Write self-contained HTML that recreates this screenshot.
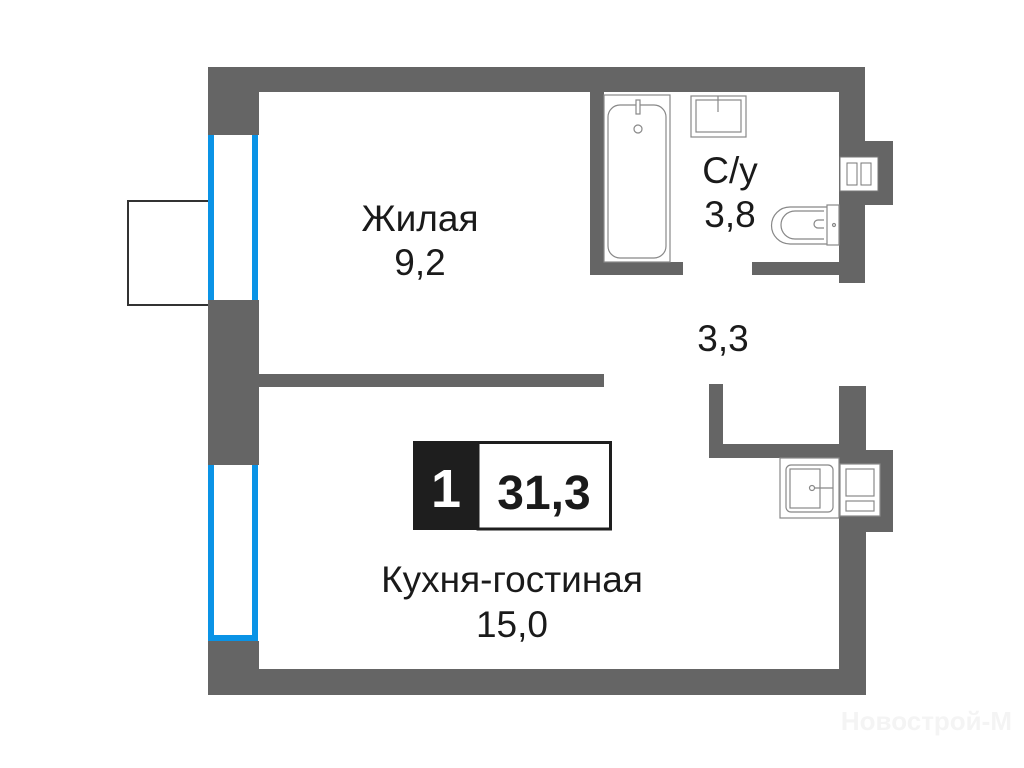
<!DOCTYPE html>
<html><head><meta charset="utf-8"><style>
html,body{margin:0;padding:0;background:#fff;width:1024px;height:768px;overflow:hidden}
svg{display:block}
text{font-family:"Liberation Sans","DejaVu Sans",sans-serif;fill:#1a1a1a}
</style></head><body>
<svg width="1024" height="768" viewBox="0 0 1024 768" xmlns="http://www.w3.org/2000/svg">
<g fill="#656565">
  <rect x="208" y="67" width="657" height="25"/>
  <rect x="208" y="67" width="51" height="628"/>
  <rect x="208" y="669" width="658" height="26"/>
  <rect x="839" y="67" width="26" height="216"/>
  <rect x="865" y="141" width="28" height="64"/>
  <rect x="839" y="386" width="27" height="309"/>
  <rect x="866" y="450" width="27" height="82"/>
  <rect x="259" y="374" width="345" height="13"/>
  <rect x="590" y="92" width="14" height="183"/>
  <rect x="590" y="262" width="93" height="13"/>
  <rect x="752" y="262" width="87" height="13"/>
  <rect x="709" y="384" width="14" height="74"/>
  <rect x="709" y="444" width="130" height="14"/>
</g>
<rect x="208" y="135" width="51" height="165" fill="#fff"/>
<rect x="208" y="135" width="6" height="165" fill="#0a93e6"/>
<rect x="252" y="135" width="6" height="165" fill="#0a93e6"/>
<rect x="208" y="465" width="51" height="176" fill="#fff"/>
<rect x="208" y="465" width="6" height="176" fill="#0a93e6"/>
<rect x="252" y="465" width="6" height="176" fill="#0a93e6"/>
<rect x="208" y="635" width="50" height="6" fill="#0a93e6"/>
<polyline points="208,201 128,201 128,305 208,305" fill="none" stroke="#333" stroke-width="2"/>
<rect x="840" y="157" width="38" height="34" fill="#fff" stroke="#777" stroke-width="1"/>
<rect x="847" y="163" width="10" height="22" fill="none" stroke="#777"/>
<rect x="861" y="163" width="10" height="22" fill="none" stroke="#777"/>
<g fill="none" stroke="#888" stroke-width="1.2">
  <rect x="604" y="95" width="66" height="167"/>
  <rect x="608" y="105" width="58" height="153" rx="12"/>
  <rect x="636" y="100" width="4" height="14" fill="#fff"/>
  <circle cx="638" cy="129" r="4"/>
  <rect x="691" y="96" width="55" height="41"/>
  <rect x="696" y="100" width="45" height="32"/>
  <line x1="718" y1="96" x2="718" y2="112"/>
  <rect x="827" y="205" width="12" height="40"/>
  <path d="M827,207 H790 A18,18 0 0 0 790,244 H827"/>
  <path d="M824,211 H795 A13,13 0 0 0 795,239 H824"/>
  <path d="M824,220 h-6 a4,4 0 0 0 0,8 h6"/>
  <circle cx="834" cy="225" r="1.5"/>
  <rect x="780" y="458" width="59" height="60" fill="#fff"/>
  <rect x="786" y="465" width="47" height="47" rx="5"/>
  <rect x="790" y="469" width="30" height="39"/>
  <circle cx="812" cy="488" r="2.5"/>
  <line x1="815" y1="488" x2="833" y2="488"/>
  <rect x="840" y="464" width="40" height="52" fill="#fff"/>
  <rect x="846" y="469" width="28" height="27"/>
  <rect x="846" y="501" width="28" height="10"/>
</g>
<g font-size="37" text-anchor="middle">
  <text x="420" y="231">Жилая</text>
  <text x="420" y="275">9,2</text>
  <text x="730" y="183">С/у</text>
  <text x="730" y="227">3,8</text>
  <text x="723" y="351">3,3</text>
  <text x="512" y="592">Кухня-гостиная</text>
  <text x="512" y="637">15,0</text>
</g>
<rect x="413" y="441" width="65" height="89" fill="#1e1e1e"/>
<rect x="478" y="442.5" width="132.5" height="86.5" fill="#fff" stroke="#1e1e1e" stroke-width="3"/>
<text x="446" y="507" font-size="54" font-weight="bold" text-anchor="middle" style="fill:#fff">1</text>
<text x="544" y="509" font-size="48" font-weight="bold" text-anchor="middle">31,3</text>
<text x="1012" y="730" font-size="26" font-weight="bold" text-anchor="end" style="fill:#f4f4f4">Новострой-М</text>
</svg>
</body></html>
